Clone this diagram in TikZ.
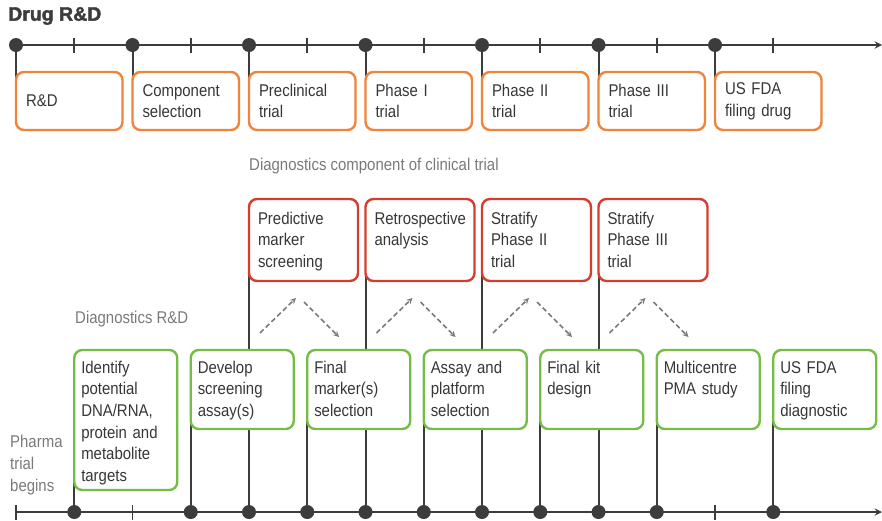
\documentclass[tikz,border=0pt]{standalone}
\usepackage{fontspec}
\setmainfont[FakeStretch=0.88]{Liberation Sans}
\newfontfamily\titlefont[FakeBold=2]{Liberation Sans}
\usetikzlibrary{calc,backgrounds}

\definecolor{linegray}{RGB}{60,60,60}
\definecolor{labelgray}{RGB}{122,122,122}
\definecolor{textgray}{RGB}{55,55,55}
\definecolor{drugorange}{RGB}{239,132,59}
\definecolor{trialred}{RGB}{211,62,46}
\definecolor{dxgreen}{RGB}{116,190,72}

\tikzset{
  box/.style={rectangle,rounded corners=8pt,line width=2.4pt,fill=white,anchor=north west,
    align=left,text=textgray,outer sep=0pt,font=\fontsize{17}{21.7}\selectfont},
  drugbox/.style={box,draw=drugorange,inner xsep=10pt,text width=86.5pt,inner ysep=0pt,minimum height=58pt},
  trialbox/.style={box,draw=trialred,inner xsep=9pt,text width=91pt,inner ysep=6pt,text height=19pt,text depth=51pt},
  dxbox/.style={box,draw=dxgreen,inner xsep=7pt,text width=89pt,inner ysep=5pt,text height=18pt,text depth=51pt},
  graylabel/.style={anchor=west,inner sep=0pt,align=left,text=labelgray,font=\fontsize{17}{21.7}\selectfont},
  dot/.style={circle,fill=linegray,minimum size=14pt,inner sep=0pt},
  tick/.style={line width=1.7pt,draw=linegray},
  axis/.style={line width=2.2pt,draw=linegray,-stealth},
  stem/.style={line width=2pt,draw=linegray},
  flow/.style={line width=1.6pt,draw=labelgray,dash pattern=on 5pt off 3pt,-stealth}
}

\begin{document}
\begin{tikzpicture}[x=1pt,y=-1pt]
  \useasboundingbox (0,0) rectangle (882,520);

  % draw "Drug R&D" heading
  \node[anchor=west,inner sep=0pt,text=linegray,font=\titlefont\bfseries\fontsize{19.5}{22}\selectfont] (title) at (8,16) {Drug R\&D};

  % draw drug timeline ends, dots and ticks
  \coordinate (drugstart) at (16,45);
  \coordinate (drugend) at (882,45);
  \foreach \x [count=\i] in {16,132.5,249,365.5,482,598.5,715}
    \node[dot] (d\i) at (\x,45) {};
  \foreach \x in {74.25,190.75,307.25,423.75,540.25,656.75,773.25}
    \draw[tick] (\x,37.5) -- ++(0,15);

  % draw drug R&D stages
  \node[drugbox] (rnd) at (16,72) {R\&D};
  \node[drugbox] (comp) at (132.5,72) {Component\\selection};
  \node[drugbox] (precl) at (249,72) {Preclinical\\trial};
  \node[drugbox] (ph1) at (365.5,72) {Phase I\\trial};
  \node[drugbox] (ph2) at (482,72) {Phase II\\trial};
  \node[drugbox] (ph3) at (598.5,72) {Phase III\\trial};
  \node[drugbox] (fdadrug) at (715,72) {US FDA\\filing drug};

  % draw "Diagnostics component" text
  \node[graylabel] (dxtrial) at (249,166) {Diagnostics component of clinical trial};

  % draw diagnostics component of the trials
  \node[trialbox] (predictive) at (249,199) {Predictive\\marker\\screening};
  \node[trialbox] (retro) at (365.5,199) {Retrospective\\analysis};
  \node[trialbox] (strat2) at (482,199) {Stratify\\Phase II\\trial};
  \node[trialbox] (strat3) at (598.5,199) {Stratify\\Phase III\\trial};

  % draw "Diagnostics R&D" and "Pharma trial begins" text
  \node[graylabel] (dxrnd) at (75,319) {Diagnostics R\&D};
  \node[graylabel] (pharma) at (10,465) {Pharma\\trial\\begins};

  % draw diagnostics R&D stages
  \node[dxbox,text depth=112pt] (ident) at (74.25,350) {Identify\\potential\\DNA/RNA,\\protein and\\metabolite\\targets};
  \node[dxbox] (develop) at (190.75,350) {Develop\\screening\\assay(s)};
  \node[dxbox] (finalmarker) at (307.25,350) {Final\\marker(s)\\selection};
  \node[dxbox] (assay) at (423.75,350) {Assay and\\platform\\selection};
  \node[dxbox] (kit) at (540.25,350) {Final kit\\design};
  \node[dxbox] (pma) at (656.75,350) {Multicentre\\PMA study};
  \node[dxbox] (fdadx) at (773.25,350) {US FDA\\filing\\diagnostic};

  % draw diagnostics timeline ends, dots and ticks
  \coordinate (dxstart) at (16,512);
  \coordinate (dxend) at (882,512);
  \foreach \k in {1,3,4,5,6,7,8,9,10,11,13}
    \node[dot] (b\k) at ({16+58.25*\k},512) {};
  \foreach \k in {0,2,12}
    \draw[tick] ({16+58.25*\k},504.5) -- ++(0,15);

  % draw dashed arrows between the two rows
  \draw[flow] ($(predictive.south west)+(11,52)$) -- ($(predictive.south west)+(47,17)$);
  \draw[flow] ($(predictive.south west)+(55,21)$) -- ($(predictive.south west)+(90,56)$);
  \draw[flow] ($(retro.south west)+(11,52)$) -- ($(retro.south west)+(47,17)$);
  \draw[flow] ($(retro.south west)+(55,21)$) -- ($(retro.south west)+(90,56)$);
  \draw[flow] ($(strat2.south west)+(11,52)$) -- ($(strat2.south west)+(47,17)$);
  \draw[flow] ($(strat2.south west)+(55,21)$) -- ($(strat2.south west)+(90,56)$);
  \draw[flow] ($(strat3.south west)+(11,52)$) -- ($(strat3.south west)+(47,17)$);
  \draw[flow] ($(strat3.south west)+(55,21)$) -- ($(strat3.south west)+(90,56)$);

  \begin{scope}[on background layer]
    % draw the two timelines
    \draw[axis] (drugstart) -- (drugend);
    \draw[axis] (dxstart) -- (dxend);
    % draw lines from drug dots to stages
    \draw[stem] (d1) -- (rnd.west);
    \draw[stem] (d2) -- (comp.west);
    \draw[stem] (d3) -- (precl.west);
    \draw[stem] (d4) -- (ph1.west);
    \draw[stem] (d5) -- (ph2.west);
    \draw[stem] (d6) -- (ph3.west);
    \draw[stem] (d7) -- (fdadrug.west);
    % draw lines from diagnostics dots to stages
    \draw[stem] (b1) -- (ident.west);
    \draw[stem] (b3) -- (develop.west);
    \draw[stem] (b5) -- (finalmarker.west);
    \draw[stem] (b7) -- (assay.west);
    \draw[stem] (b9) -- (kit.west);
    \draw[stem] (b11) -- (pma.west);
    \draw[stem] (b13) -- (fdadx.west);
    % draw lines up to the trial components
    \draw[stem] (b4) -- (predictive.west);
    \draw[stem] (b6) -- (retro.west);
    \draw[stem] (b8) -- (strat2.west);
    \draw[stem] (b10) -- (strat3.west);
  \end{scope}
\end{tikzpicture}
\end{document}
